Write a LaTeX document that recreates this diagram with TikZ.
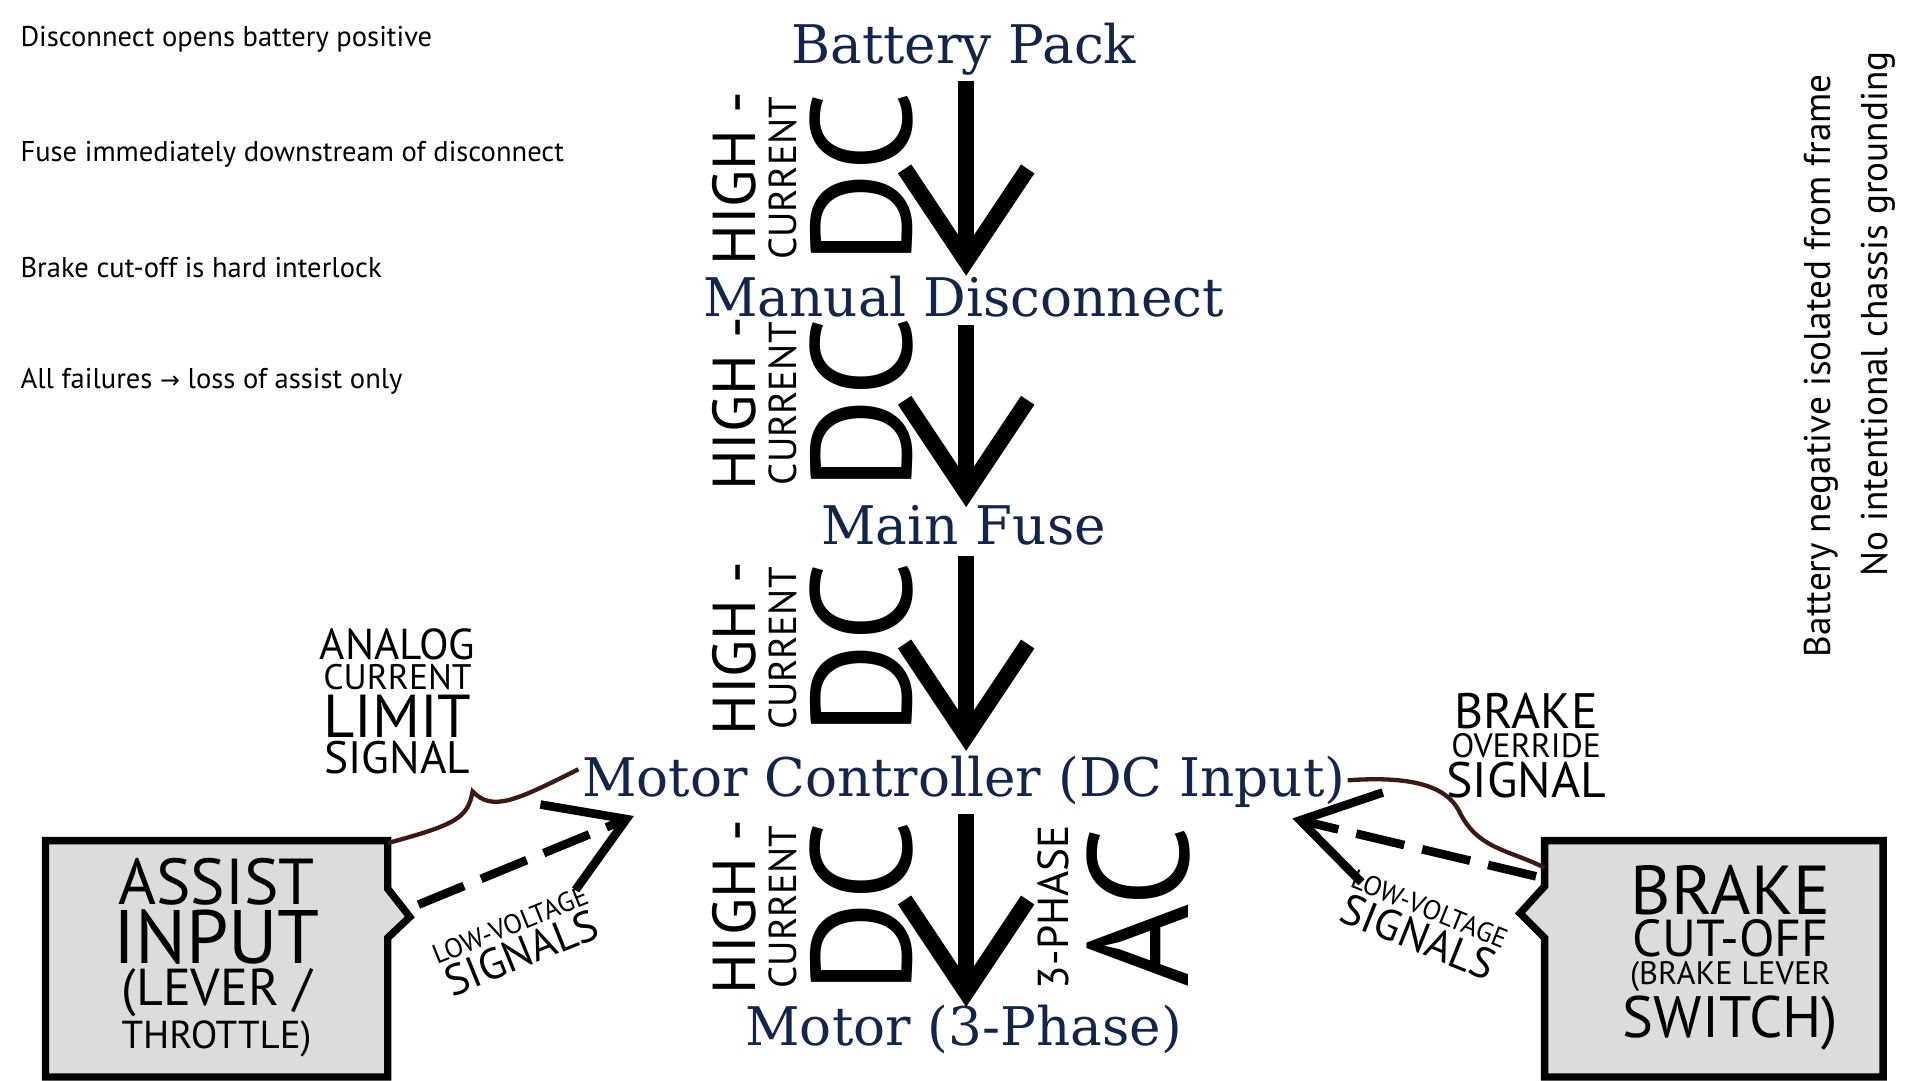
\documentclass[tikz,border=0pt]{standalone}
\usepackage{fontspec}
\setmainfont{PT Sans}
\newfontfamily\slab{DejaVu Serif}
\newfontfamily\djv{DejaVu Sans}
\usetikzlibrary{arrows.meta}
\definecolor{navy}{HTML}{13254A}
\definecolor{brn}{HTML}{3A1A14}
\definecolor{boxg}{HTML}{DCDCDC}
\newcommand{\fsz}[1]{\fontsize{#1pt}{#1pt}\selectfont}
\begin{document}
\begin{tikzpicture}[x=0.01cm,y=-0.01cm,
  title/.style={text=navy,font=\slab\fsz{12.3},inner sep=0pt},
  note/.style={anchor=west,font=\fsz{6.6},inner sep=0pt},
  big/.style={-{Straight Barb[length=0.75cm,width=1.0cm]},line width=0.13cm},
  sig/.style={-{Straight Barb[length=0.6cm,width=0.75cm]},line width=0.07cm,dash pattern=on 0.4cm off 0.15cm},
  lab/.style={inner sep=0pt,align=center,font=\fsz{3}},
  brace/.style={brn,line width=0.035cm},
  box/.style={fill=boxg,draw=black,line width=0.06cm}]
\useasboundingbox (0,0) rectangle (1560,877.5);
% notes
\node[note] (n1) at (16,32) {Disconnect opens battery positive};
\node[note] (n2) at (16,125) {Fuse immediately downstream of disconnect};
\node[note] (n3) at (16,217) {Brake cut-off is hard interlock};
\node[note] (n4) at (16,310) {All failures {\djv\fsz{5.5}→} loss of assist only};
\node[rotate=90,font=\fsz{8.6},inner sep=0pt] (n5) at (1480,297) {Battery negative isolated from frame};
\node[rotate=90,font=\fsz{8.6},inner sep=0pt] (n6) at (1526,255) {No intentional chassis grounding};
% titles
\node[title] (bp) at (783,40) {Battery Pack};
\node[title] (md) at (783,241) {Manual Disconnect};
\node[title] (mf) at (783,427) {Main Fuse};
\node[title] (mc) at (783,635) {Motor Controller (DC Input)};
\node[title] (mo) at (783,836) {Motor (3-Phase)};
% big arrows
\coordinate (a1s) at (785,66); \coordinate (a1e) at (785,224);
\coordinate (a2s) at (785,264); \coordinate (a2e) at (785,412);
\coordinate (a3s) at (785,452); \coordinate (a3e) at (785,610);
\coordinate (a4s) at (785,661); \coordinate (a4e) at (785,818);
\draw[big] (a1s) -- (a1e);
\draw[big] (a2s) -- (a2e);
\draw[big] (a3s) -- (a3e);
\draw[big] (a4s) -- (a4e);
% labels on arrows
\foreach \y/\n in {145/1,328/2,527/3,737/4}{
  \node[rotate=90,font=\fsz{14},inner sep=0pt] (h\n) at (597,\y) {HIGH -};
  \node[rotate=90,font=\fsz{9},inner sep=0pt] (c\n) at (636,\y) {CURRENT};
  \node[rotate=90,font=\fsz{33},inner sep=0pt] (d\n) at (700,\y) {DC};
}
\node[rotate=90,font=\fsz{10},inner sep=0pt] (ph) at (856,737) {3-PHASE};
\node[rotate=90,font=\fsz{33},inner sep=0pt] (ac) at (925,737) {AC};
% boxes
\draw[box] (37,683) -- (315,683) -- (315,722) -- (333,745) -- (315,762) -- (315,875) -- (37,875) -- cycle;
\draw[box] (1530,683) -- (1255,683) -- (1255,720) -- (1235,742) -- (1255,762) -- (1255,875) -- (1530,875) -- cycle;
\node[lab] (ai) at (176,778) {{\fsz{15}ASSIST}\\{\fsz{17.5}INPUT}\\{\fsz{12}(LEVER /}\\{\fsz{9}THROTTLE)}};
\node[lab] (bc) at (1406,778) {{\fsz{16}BRAKE}\\{\fsz{12}CUT-OFF}\\{\fsz{7.5}(BRAKE LEVER}\\{\fsz{13.5}SWITCH)}};
% signal arrows
\coordinate (ls) at (340,735); \coordinate (le) at (515,663);
\coordinate (rs) at (1248,712); \coordinate (re) at (1050,665);
\draw[sig] (ls) -- (le);
\draw[sig] (rs) -- (re);
\node[lab,rotate=22] (lv1) at (420,765) {{\fsz{6.3}LOW-VOLTAGE}\\{\fsz{10}SIGNALS}};
\node[lab,rotate=-22] (lv2) at (1156,752) {{\fsz{6.3}LOW-VOLTAGE}\\{\fsz{10}SIGNALS}};
% braces
\draw[brace] (315,685) .. controls (370,670) and (380,665) .. (384,643) .. controls (400,660) and (420,650) .. (470,625);
\draw[brace] (1095,634) .. controls (1150,630) and (1175,640) .. (1185,658) .. controls (1200,690) and (1225,690) .. (1255,705);
\node[lab] (al) at (323,570) {{\fsz{10}ANALOG}\\{\fsz{8.2}CURRENT}\\{\fsz{14}LIMIT}\\{\fsz{10.5}SIGNAL}};
\node[lab] (bo) at (1240,606) {{\fsz{11.5}BRAKE}\\{\fsz{7.8}OVERRIDE}\\{\fsz{11.5}SIGNAL}};
\end{tikzpicture}
\end{document}
